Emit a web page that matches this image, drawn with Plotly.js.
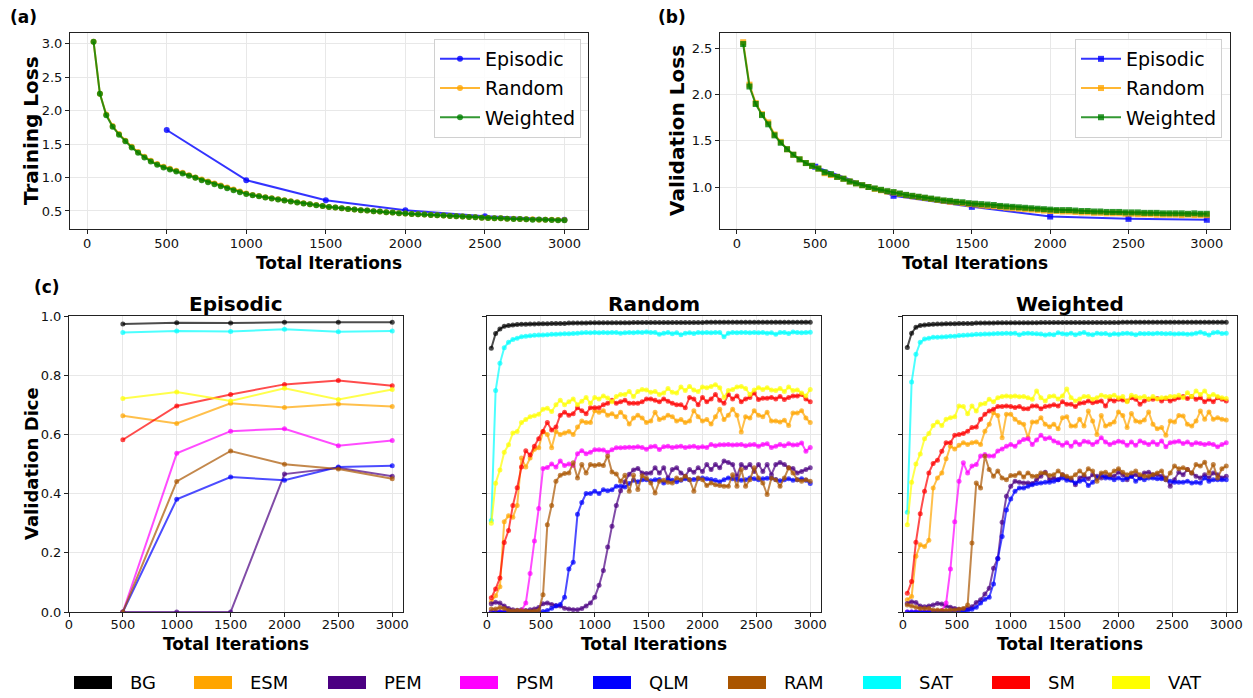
<!DOCTYPE html>
<html><head><meta charset="utf-8">
<script src="https://cdn.plot.ly/plotly-3.0.1.min.js"></script>
<style>html,body{margin:0;padding:0;background:#fff}#chart{width:1253px;height:698px}</style>
</head><body><div id="chart"></div>
<script>
// ---------------- DATA ----------------
const ITER = [40,80,120,160,200,240,280,320,360,400,440,480,520,560,600,640,680,720,760,800,840,880,920,960,1000,1040,1080,1120,1160,1200,1240,1280,1320,1360,1400,1440,1480,1520,1560,1600,1640,1680,1720,1760,1800,1840,1880,1920,1960,2000,2040,2080,2120,2160,2200,2240,2280,2320,2360,2400,2440,2480,2520,2560,2600,2640,2680,2720,2760,2800,2840,2880,2920,2960,3000];
const EPI_ITER = [500,1000,1500,2000,2500,3000];
const XTICKS = [0,500,1000,1500,2000,2500,3000];

// (a) training loss
const TL_EPISODIC = [1.71,0.96,0.66,0.51,0.42,0.37];
const TL_RANDOM = [3.03,2.25,1.94,1.77,1.65,1.55,1.46,1.38,1.31,1.25,1.20,1.16,1.13,1.10,1.07,
  1.035,1.00,0.97,0.94,0.91,0.88,0.85,0.82,0.79,0.76,0.74,0.725,0.705,0.69,0.675,
  0.66,0.645,0.63,0.615,0.60,0.59,0.575,0.56,0.55,0.54,0.53,0.52,0.51,0.505,0.495,
  0.49,0.48,0.475,0.465,0.46,0.455,0.45,0.445,0.44,0.435,0.43,0.425,0.42,0.415,0.41,
  0.405,0.40,0.395,0.39,0.39,0.385,0.385,0.38,0.375,0.375,0.37,0.37,0.368,0.365,0.365];
const TL_WEIGHTED = [3.03,2.25,1.93,1.76,1.64,1.54,1.45,1.37,1.30,1.24,1.19,1.15,1.12,1.09,1.06,
  1.025,0.995,0.96,0.93,0.90,0.87,0.84,0.81,0.78,0.755,0.735,0.72,0.70,0.685,0.67,
  0.655,0.64,0.625,0.61,0.60,0.585,0.575,0.56,0.55,0.54,0.53,0.52,0.51,0.505,0.495,
  0.49,0.48,0.475,0.465,0.46,0.455,0.45,0.445,0.44,0.435,0.43,0.425,0.42,0.415,0.41,
  0.405,0.40,0.395,0.39,0.39,0.385,0.38,0.38,0.375,0.37,0.372,0.368,0.365,0.362,0.36];

// (b) validation loss
const VL_EPISODIC = [1.22,0.905,0.785,0.68,0.655,0.645];
const VL_RANDOM = [2.57,2.11,1.91,1.79,1.70,1.57,1.49,1.41,1.35,1.30,1.26,1.23,1.20,1.15,1.13,
  1.11,1.09,1.06,1.04,1.02,1.00,0.98,0.965,0.95,0.94,0.925,0.91,0.90,0.89,0.88,
  0.87,0.86,0.85,0.84,0.835,0.825,0.815,0.81,0.80,0.795,0.79,0.785,0.775,0.77,0.765,
  0.76,0.755,0.75,0.745,0.74,0.74,0.735,0.735,0.73,0.725,0.725,0.72,0.72,0.715,0.715,
  0.715,0.71,0.71,0.705,0.705,0.705,0.70,0.70,0.70,0.70,0.695,0.70,0.695,0.695,0.695];
const VL_WEIGHTED = [2.55,2.09,1.90,1.78,1.68,1.56,1.48,1.41,1.35,1.30,1.26,1.23,1.20,1.16,1.14,
  1.11,1.09,1.06,1.04,1.02,1.00,0.985,0.97,0.955,0.945,0.93,0.915,0.905,0.895,0.885,
  0.875,0.865,0.855,0.85,0.84,0.835,0.825,0.82,0.815,0.81,0.805,0.795,0.79,0.785,0.78,
  0.775,0.77,0.765,0.76,0.755,0.75,0.75,0.75,0.745,0.74,0.74,0.735,0.735,0.73,0.73,
  0.73,0.725,0.725,0.725,0.72,0.72,0.72,0.715,0.715,0.715,0.715,0.71,0.715,0.71,0.71];

// (c) validation dice — categories
const CLASSES = ['BG','ESM','PEM','PSM','QLM','RAM','SAT','SM','VAT'];

// Episodic (500..3000)
const E_BG  = [0.973,0.977,0.976,0.979,0.979,0.979];
const E_ESM = [0.663,0.637,0.705,0.691,0.703,0.694];
const E_PEM = [0.0,0.0,0.0,0.466,0.487,0.459];
const E_PSM = [0.0,0.536,0.611,0.619,0.562,0.579];
const E_QLM = [0.0,0.381,0.456,0.445,0.490,0.494];
const E_RAM = [0.0,0.441,0.544,0.499,0.483,0.450];
const E_SAT = [0.944,0.949,0.948,0.955,0.947,0.949];
const E_SM  = [0.582,0.696,0.735,0.769,0.782,0.764];
const E_VAT = [0.721,0.743,0.713,0.756,0.718,0.752];

// Random (40..3000)
const R_BG = [0.891,0.941,0.956,0.965,0.968,0.970,0.971,0.972,0.972,0.973,0.973,0.974,0.974,0.974,0.975,
  0.975,0.975,0.975,0.976,0.976,0.976,0.976,0.976,0.977,0.977,0.977,0.977,0.977,0.977,0.977,
  0.977,0.977,0.977,0.978,0.978,0.978,0.978,0.978,0.978,0.978,0.978,0.978,0.978,0.978,0.978,
  0.978,0.978,0.978,0.978,0.978,0.979,0.979,0.979,0.979,0.979,0.979,0.979,0.979,0.979,0.979,
  0.979,0.979,0.979,0.979,0.979,0.979,0.979,0.979,0.979,0.979,0.979,0.979,0.979,0.979,0.979];
const R_ESM = [0.035,0.055,0.085,0.305,0.325,0.32,0.36,0.52,0.49,0.52,0.55,0.555,0.61,0.60,0.555,
  0.61,0.60,0.605,0.61,0.60,0.625,0.645,0.64,0.64,0.68,0.675,0.68,0.665,0.67,0.66,
  0.675,0.66,0.635,0.655,0.665,0.655,0.64,0.645,0.675,0.65,0.655,0.665,0.66,0.645,0.65,
  0.64,0.645,0.68,0.66,0.645,0.65,0.635,0.66,0.685,0.65,0.665,0.685,0.665,0.608,0.66,
  0.655,0.68,0.665,0.66,0.675,0.645,0.645,0.642,0.648,0.63,0.672,0.672,0.68,0.655,0.64];
const R_PEM = [0.028,0.033,0.03,0.02,0.012,0.008,0.006,0.008,0.005,0.008,0.01,0.015,0.028,0.03,0.025,
  0.022,0.02,0.013,0.01,0.008,0.008,0.012,0.02,0.03,0.05,0.09,0.14,0.22,0.29,0.36,
  0.41,0.44,0.465,0.48,0.485,0.47,0.468,0.47,0.487,0.47,0.487,0.453,0.481,0.487,0.47,
  0.459,0.481,0.472,0.487,0.475,0.498,0.481,0.498,0.487,0.51,0.505,0.498,0.459,0.498,0.487,
  0.498,0.475,0.498,0.475,0.498,0.464,0.498,0.505,0.498,0.487,0.485,0.47,0.475,0.481,0.487];
const R_PSM = [0.0,0.0,0.0,0.0,0.0,0.0,0.0,0.005,0.03,0.13,0.24,0.35,0.485,0.488,0.50,
  0.49,0.51,0.495,0.50,0.495,0.535,0.545,0.535,0.54,0.548,0.548,0.547,0.54,0.548,0.555,
  0.555,0.556,0.557,0.556,0.558,0.556,0.55,0.558,0.56,0.549,0.558,0.56,0.556,0.558,0.56,
  0.556,0.558,0.56,0.556,0.558,0.556,0.566,0.562,0.565,0.565,0.566,0.564,0.565,0.566,0.562,
  0.565,0.566,0.56,0.566,0.568,0.556,0.56,0.566,0.562,0.568,0.564,0.565,0.571,0.543,0.556];
const R_QLM = [0.0,0.0,0.0,0.0,0.0,0.0,0.0,0.0,0.0,0.0,0.0,0.0,0.002,0.005,0.013,
  0.02,0.025,0.05,0.145,0.168,0.33,0.37,0.40,0.40,0.408,0.40,0.413,0.41,0.413,0.425,
  0.425,0.422,0.434,0.445,0.44,0.447,0.447,0.443,0.447,0.448,0.436,0.447,0.445,0.44,0.445,
  0.45,0.447,0.448,0.45,0.453,0.45,0.448,0.445,0.44,0.447,0.453,0.45,0.448,0.445,0.447,
  0.453,0.45,0.447,0.45,0.452,0.453,0.448,0.443,0.447,0.45,0.445,0.447,0.45,0.445,0.434];
const R_RAM = [0.01,0.01,0.015,0.012,0.005,0.003,0.005,0.004,0.003,0.002,0.003,0.005,0.058,0.295,0.36,
  0.442,0.462,0.468,0.47,0.504,0.453,0.498,0.47,0.498,0.495,0.498,0.495,0.527,0.473,0.466,
  0.442,0.462,0.408,0.462,0.414,0.46,0.452,0.436,0.402,0.442,0.445,0.438,0.436,0.453,0.447,
  0.459,0.447,0.408,0.453,0.447,0.427,0.436,0.43,0.427,0.425,0.425,0.464,0.425,0.481,0.425,
  0.447,0.487,0.453,0.436,0.397,0.453,0.447,0.425,0.453,0.487,0.47,0.447,0.442,0.447,0.442];
const R_SAT = [0.309,0.748,0.84,0.893,0.911,0.921,0.925,0.93,0.932,0.933,0.935,0.936,0.936,0.937,0.938,
  0.938,0.939,0.94,0.94,0.941,0.942,0.943,0.944,0.943,0.944,0.943,0.944,0.943,0.944,0.944,
  0.942,0.943,0.944,0.943,0.945,0.944,0.946,0.944,0.944,0.938,0.942,0.944,0.94,0.943,0.937,
  0.942,0.943,0.941,0.944,0.943,0.944,0.943,0.944,0.944,0.93,0.942,0.944,0.943,0.944,0.944,
  0.943,0.944,0.943,0.944,0.942,0.943,0.938,0.944,0.944,0.941,0.946,0.944,0.943,0.944,0.945];
const R_SM = [0.048,0.078,0.115,0.235,0.275,0.36,0.42,0.49,0.545,0.53,0.56,0.585,0.61,0.64,0.615,
  0.625,0.665,0.675,0.665,0.67,0.69,0.68,0.67,0.69,0.69,0.69,0.70,0.705,0.715,0.705,
  0.71,0.715,0.705,0.705,0.705,0.71,0.72,0.72,0.715,0.71,0.72,0.712,0.705,0.70,0.70,
  0.69,0.725,0.72,0.70,0.725,0.71,0.72,0.735,0.715,0.705,0.735,0.72,0.73,0.71,0.72,
  0.725,0.74,0.718,0.722,0.722,0.725,0.72,0.728,0.718,0.725,0.73,0.73,0.735,0.72,0.71];
const R_VAT = [0.30,0.435,0.48,0.54,0.565,0.605,0.61,0.64,0.65,0.66,0.663,0.668,0.685,0.688,0.677,
  0.70,0.715,0.70,0.71,0.72,0.70,0.712,0.725,0.705,0.725,0.72,0.73,0.723,0.71,0.728,
  0.735,0.735,0.745,0.728,0.745,0.752,0.75,0.742,0.745,0.735,0.74,0.755,0.742,0.74,0.76,
  0.748,0.762,0.75,0.745,0.76,0.758,0.762,0.768,0.758,0.725,0.748,0.752,0.76,0.762,0.755,
  0.735,0.75,0.758,0.752,0.758,0.75,0.748,0.755,0.745,0.76,0.748,0.75,0.74,0.73,0.752];

// Weighted (40..3000)
const W_BG = [0.894,0.942,0.962,0.968,0.970,0.971,0.972,0.973,0.973,0.974,0.974,0.974,0.975,0.975,0.975,
  0.975,0.976,0.976,0.976,0.976,0.976,0.977,0.977,0.977,0.977,0.977,0.977,0.977,0.977,0.977,
  0.977,0.978,0.978,0.978,0.978,0.978,0.978,0.978,0.978,0.978,0.978,0.978,0.978,0.978,0.978,
  0.978,0.978,0.978,0.978,0.978,0.979,0.979,0.979,0.979,0.979,0.979,0.979,0.979,0.979,0.979,
  0.979,0.979,0.979,0.979,0.979,0.979,0.979,0.979,0.979,0.979,0.979,0.979,0.979,0.979,0.979];
const W_ESM = [0.041,0.052,0.188,0.227,0.221,0.242,0.419,0.453,0.47,0.518,0.56,0.551,0.563,0.572,0.566,
  0.572,0.574,0.566,0.611,0.634,0.673,0.664,0.589,0.668,0.668,0.651,0.64,0.634,0.589,0.642,
  0.642,0.656,0.634,0.626,0.634,0.619,0.656,0.66,0.628,0.628,0.651,0.628,0.679,0.645,0.60,
  0.664,0.628,0.634,0.642,0.676,0.664,0.623,0.671,0.645,0.642,0.649,0.676,0.634,0.619,0.623,
  0.597,0.645,0.642,0.664,0.662,0.634,0.628,0.645,0.679,0.651,0.676,0.651,0.656,0.651,0.649];
const W_PEM = [0.029,0.035,0.032,0.02,0.018,0.02,0.024,0.029,0.027,0.02,0.016,0.012,0.009,0.009,0.012,
  0.018,0.032,0.041,0.061,0.08,0.148,0.182,0.303,0.391,0.425,0.442,0.438,0.436,0.436,0.434,
  0.447,0.459,0.472,0.447,0.453,0.447,0.464,0.453,0.447,0.43,0.453,0.459,0.45,0.464,0.459,
  0.453,0.459,0.459,0.459,0.472,0.464,0.447,0.459,0.464,0.453,0.47,0.472,0.464,0.464,0.459,
  0.453,0.425,0.447,0.472,0.464,0.481,0.47,0.459,0.453,0.464,0.453,0.47,0.464,0.453,0.459];
const W_PSM = [0.0,0.0,0.0,0.0,0.001,0.001,0.002,0.003,0.005,0.03,0.145,0.305,0.442,0.504,0.47,
  0.493,0.498,0.527,0.532,0.527,0.527,0.544,0.551,0.56,0.566,0.56,0.574,0.583,0.585,0.566,
  0.581,0.597,0.585,0.589,0.578,0.572,0.563,0.572,0.56,0.574,0.566,0.577,0.574,0.566,0.574,
  0.589,0.574,0.566,0.572,0.577,0.574,0.563,0.574,0.563,0.578,0.572,0.566,0.574,0.566,0.578,
  0.558,0.572,0.574,0.577,0.569,0.574,0.566,0.572,0.569,0.566,0.569,0.566,0.558,0.566,0.572];
const W_QLM = [0.0,0.0,0.0,0.0,0.0,0.0,0.0,0.0,0.0,0.0,0.0,0.0,0.0,0.002,0.005,
  0.009,0.016,0.03,0.043,0.05,0.095,0.18,0.255,0.345,0.382,0.408,0.419,0.419,0.425,0.43,
  0.434,0.436,0.438,0.438,0.442,0.447,0.453,0.445,0.445,0.436,0.442,0.447,0.427,0.438,0.453,
  0.464,0.453,0.453,0.447,0.453,0.447,0.453,0.459,0.442,0.453,0.447,0.453,0.453,0.45,0.45,
  0.447,0.442,0.438,0.438,0.438,0.442,0.436,0.438,0.436,0.453,0.442,0.447,0.447,0.447,0.447];
const W_RAM = [0.024,0.02,0.016,0.012,0.012,0.012,0.007,0.007,0.005,0.005,0.007,0.007,0.009,0.012,0.024,
  0.233,0.436,0.419,0.527,0.481,0.459,0.476,0.453,0.447,0.461,0.461,0.47,0.456,0.47,0.459,
  0.459,0.47,0.47,0.461,0.464,0.476,0.464,0.459,0.453,0.464,0.476,0.464,0.484,0.476,0.442,
  0.47,0.472,0.464,0.476,0.484,0.472,0.464,0.47,0.476,0.464,0.459,0.459,0.464,0.47,0.476,
  0.447,0.47,0.493,0.484,0.487,0.481,0.47,0.498,0.493,0.506,0.47,0.498,0.453,0.484,0.493];
const W_SAT = [0.337,0.777,0.871,0.911,0.922,0.925,0.928,0.928,0.929,0.930,0.932,0.932,0.934,0.935,0.936,
  0.937,0.938,0.938,0.939,0.939,0.940,0.941,0.941,0.942,0.941,0.942,0.937,0.941,0.942,0.941,
  0.940,0.939,0.936,0.938,0.937,0.943,0.940,0.938,0.942,0.937,0.941,0.944,0.938,0.937,0.942,
  0.940,0.941,0.937,0.940,0.938,0.941,0.942,0.940,0.937,0.941,0.940,0.941,0.940,0.942,0.941,
  0.940,0.941,0.939,0.940,0.940,0.938,0.939,0.942,0.945,0.941,0.936,0.943,0.945,0.941,0.942];
const W_SM = [0.063,0.103,0.236,0.332,0.408,0.47,0.502,0.513,0.543,0.572,0.572,0.597,0.60,0.603,0.611,
  0.623,0.625,0.651,0.668,0.679,0.685,0.694,0.694,0.696,0.694,0.691,0.694,0.687,0.687,0.696,
  0.696,0.687,0.694,0.696,0.70,0.696,0.71,0.702,0.702,0.694,0.705,0.707,0.713,0.707,0.71,
  0.713,0.696,0.719,0.713,0.719,0.716,0.713,0.724,0.719,0.702,0.713,0.719,0.719,0.721,0.713,
  0.721,0.713,0.719,0.724,0.728,0.721,0.728,0.719,0.724,0.71,0.719,0.71,0.724,0.719,0.713];
const W_VAT = [0.295,0.438,0.50,0.534,0.585,0.603,0.63,0.642,0.63,0.651,0.656,0.66,0.696,0.694,0.67,
  0.696,0.679,0.702,0.704,0.719,0.71,0.724,0.728,0.73,0.728,0.73,0.727,0.728,0.724,0.719,
  0.747,0.724,0.713,0.728,0.73,0.72,0.73,0.753,0.724,0.713,0.72,0.728,0.728,0.719,0.724,
  0.732,0.728,0.728,0.732,0.724,0.728,0.71,0.732,0.728,0.724,0.728,0.72,0.728,0.72,0.724,
  0.724,0.728,0.728,0.732,0.724,0.741,0.728,0.747,0.735,0.747,0.728,0.735,0.728,0.724,0.721];

// ---------------- STYLE ----------------
const W = 1253, H = 698;
const FONT = 'DejaVu Sans';
const CLASS_COLORS = {BG:'#000000', ESM:'#FFA500', PEM:'#4B0082', PSM:'#FF00FF', QLM:'#0000FF',
  RAM:'#AA5500', SAT:'#00FFFF', SM:'#FF0000', VAT:'#FFFF00'};
function rgba(hex, a){const n=parseInt(hex.slice(1),16);return `rgba(${(n>>16)&255},${(n>>8)&255},${n&255},${a})`;}
const px = p => p / W;
const py = p => 1 - p / H;

const EPIS = {BG:E_BG,ESM:E_ESM,PEM:E_PEM,PSM:E_PSM,QLM:E_QLM,RAM:E_RAM,SAT:E_SAT,SM:E_SM,VAT:E_VAT};
const RAND = {BG:R_BG,ESM:R_ESM,PEM:R_PEM,PSM:R_PSM,QLM:R_QLM,RAM:R_RAM,SAT:R_SAT,SM:R_SM,VAT:R_VAT};
const WEIG = {BG:W_BG,ESM:W_ESM,PEM:W_PEM,PSM:W_PSM,QLM:W_QLM,RAM:W_RAM,SAT:W_SAT,SM:W_SM,VAT:W_VAT};

const traces = [];
function lossTrace(x, y, name, color, xa, ya, sym, leg){
  traces.push({type:'scatter', mode:'lines+markers', x, y, name, xaxis:xa, yaxis:ya, legend:leg,
    legendgroup: leg + name,
    line:{color:rgba(color,0.8), width:2}, marker:{color:rgba(color,0.8), size:6, symbol:sym}});
}
lossTrace(EPI_ITER, TL_EPISODIC, 'Episodic', '#0000FF', 'x', 'y', 'circle', 'legend');
lossTrace(ITER, TL_RANDOM, 'Random', '#FFA500', 'x', 'y', 'circle', 'legend');
lossTrace(ITER, TL_WEIGHTED, 'Weighted', '#008000', 'x', 'y', 'circle', 'legend');
lossTrace(EPI_ITER, VL_EPISODIC, 'Episodic', '#0000FF', 'x2', 'y2', 'square', 'legend2');
lossTrace(ITER, VL_RANDOM, 'Random', '#FFA500', 'x2', 'y2', 'square', 'legend2');
lossTrace(ITER, VL_WEIGHTED, 'Weighted', '#008000', 'x2', 'y2', 'square', 'legend2');

function diceTraces(x, data, xa, ya){
  CLASSES.forEach(c => {
    traces.push({type:'scatter', mode:'lines+markers', x, y:data[c], name:c, xaxis:xa, yaxis:ya,
      showlegend:false, line:{color:rgba(CLASS_COLORS[c],0.7), width:2},
      marker:{color:rgba(CLASS_COLORS[c],0.7), size:5}});
  });
}
diceTraces(EPI_ITER, EPIS, 'x3', 'y3');
diceTraces(ITER, RAND, 'x4', 'y4');
diceTraces(ITER, WEIG, 'x5', 'y5');

function axis(domain, range, opts){
  return Object.assign({domain, range, showline:true, mirror:true, linecolor:'#222', linewidth:1,
    ticks:'outside', ticklen:4, tickwidth:1, tickcolor:'#222', showgrid:true, gridcolor:'#e8e8e8',
    gridwidth:1, zeroline:false, tickfont:{family:FONT, size:13, color:'#111'}, fixedrange:true}, opts||{});
}
const topY = [py(229), py(33)];
const botY = [py(612), py(316)];
const DICE_Y = [0,0.2,0.4,0.6,0.8,1.0];
const layout = {
  width:W, height:H, margin:{l:0,r:0,t:0,b:0}, paper_bgcolor:'#fff', plot_bgcolor:'#fff',
  font:{family:FONT, color:'#000'}, showlegend:true,
  xaxis: axis([px(70), px(588)], [-108, 3148], {tickvals:XTICKS, anchor:'y', ticklabelstandoff:-2}),
  yaxis: axis(topY, [0.23, 3.16], {tickvals:[0.5,1.0,1.5,2.0,2.5,3.0], tickformat:'.1f', anchor:'x'}),
  xaxis2: axis([px(720), px(1230)], [-108, 3148], {tickvals:XTICKS, anchor:'y2', ticklabelstandoff:-2}),
  yaxis2: axis(topY, [0.545, 2.67], {tickvals:[1.0,1.5,2.0,2.5], tickformat:'.1f', anchor:'x2'}),
  xaxis3: axis([px(69), px(403)], [0, 3100], {tickvals:XTICKS, anchor:'y3', ticklabelstandoff:-4}),
  yaxis3: axis(botY, [0, 1.0], {tickvals:DICE_Y, tickformat:'.1f', anchor:'x3'}),
  xaxis4: axis([px(487), px(821)], [0, 3100], {tickvals:XTICKS, anchor:'y4', ticklabelstandoff:-4}),
  yaxis4: axis(botY, [0, 1.0], {tickvals:DICE_Y, showticklabels:false, anchor:'x4'}),
  xaxis5: axis([px(903), px(1237)], [0, 3100], {tickvals:XTICKS, anchor:'y5', ticklabelstandoff:-4}),
  yaxis5: axis(botY, [0, 1.0], {tickvals:DICE_Y, showticklabels:false, anchor:'x5'}),
  legend: {x:px(581), y:py(39), xanchor:'right', yanchor:'top', bgcolor:'rgba(255,255,255,0.85)',
    bordercolor:'#d0d0d0', borderwidth:1, font:{family:FONT, size:19, color:'#000'}, itemwidth:40, tracegroupgap:1.5},
  legend2: {x:px(1222), y:py(39), xanchor:'right', yanchor:'top', bgcolor:'rgba(255,255,255,0.85)',
    bordercolor:'#d0d0d0', borderwidth:1, font:{family:FONT, size:19, color:'#000'}, itemwidth:40, tracegroupgap:1.5},
  annotations: [], shapes: []
};
function ann(text, x, y, opts){
  layout.annotations.push(Object.assign({text, x, y, xref:'paper', yref:'paper', showarrow:false,
    xanchor:'center', yanchor:'middle', font:{family:FONT, size:17, color:'#000'}}, opts||{}));
}
ann('<b>(a)</b>', px(8), py(17), {xanchor:'left'});
ann('<b>(b)</b>', px(656), py(17), {xanchor:'left'});
ann('<b>(c)</b>', px(32), py(287), {xanchor:'left'});
ann('<b>Training Loss</b>', px(31), py(131), {textangle:-90, font:{family:FONT, size:20, color:'#000'}});
ann('<b>Validation Loss</b>', px(677), py(131), {textangle:-90, font:{family:FONT, size:20, color:'#000'}});
ann('<b>Total Iterations</b>', px(329), py(263));
ann('<b>Total Iterations</b>', px(975), py(263));
ann('<b>Validation Dice</b>', px(31), py(464), {textangle:-90, font:{family:FONT, size:18, color:'#000'}});
[['Episodic',236],['Random',654],['Weighted',1070]].forEach(([t,cx]) => {
  ann('<b>'+t+'</b>', px(cx), py(304), {font:{family:FONT, size:20, color:'#000'}});
  ann('<b>Total Iterations</b>', px(cx), py(644));
});
// bottom legend for (c)
const LEG_SWATCH_X = [74,194,328,460,593,728,863,992,1112];
CLASSES.forEach((c,i) => {
  const x0 = LEG_SWATCH_X[i];
  layout.shapes.push({type:'rect', xref:'paper', yref:'paper', x0:px(x0), x1:px(x0+38), y0:py(689), y1:py(676),
    fillcolor:CLASS_COLORS[c], line:{width:0}});
  ann(c, px(x0+54), py(682.5), {xanchor:'left', font:{family:FONT, size:18, color:'#000'}});
});

Plotly.newPlot('chart', traces, layout, {staticPlot:true, displayModeBar:false});
</script></body></html>
